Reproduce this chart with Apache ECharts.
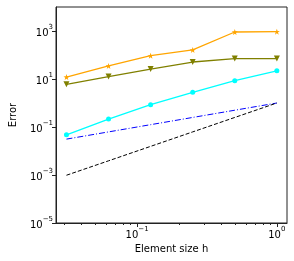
<!DOCTYPE html>
<html><head><meta charset="utf-8">
<script src="https://cdn.jsdelivr.net/npm/echarts@6/dist/echarts.min.js"></script>
<style>html,body{margin:0;padding:0;background:#fff}#c{width:294px;height:261px}</style>
</head><body><div id="c"></div>
<script>
var h = [0.03125, 0.0625, 0.125, 0.25, 0.5, 1];
var errOrange = [12, 35, 94, 162, 910, 940];
var errOlive = [6, 12.6, 26, 51, 71, 71];
var errCyan = [0.047, 0.215, 0.85, 2.8, 8.5, 22];
var refLinear = [0.03125, 0.0625, 0.125, 0.25, 0.5, 1];
var refQuad = [0.000977, 0.0039, 0.0156, 0.0625, 0.25, 1];
var xMajorTicks = [0.1, 1];
var xMinorTicks = [0.03,0.04,0.05,0.06,0.07,0.08,0.09,0.2,0.3,0.4,0.5,0.6,0.7,0.8,0.9];
var yMajorTicks = [1e-5, 1e-3, 1e-1, 1e1, 1e3];

function pairs(ys){ return h.map(function(x,i){return [x, ys[i]];}); }
function sup(v){
  var e = Math.round(Math.log10(v));
  var s = (e < 0 ? '\u2212' : '') + Math.abs(e);
  return '{b|10}{s|' + s + '}';
}
var rich = {
  b: {fontSize: 10, fontFamily: 'DejaVu Sans', color: '#000', lineHeight: 14, verticalAlign: 'bottom'},
  s: {fontSize: 7, fontFamily: 'DejaVu Sans', color: '#000', lineHeight: 14, verticalAlign: 'top'}
};
var star = 'path://M0,-10 L2.35,-3.24 9.51,-3.09 3.8,1.24 5.88,8.09 0,4 -5.88,8.09 -3.8,1.24 -9.51,-3.09 -2.35,-3.24 Z';
var chart = echarts.init(document.getElementById('c'));
chart.setOption({
  animation: false,
  grid: {left: 46, right: 7, top: 7, bottom: 38, show: true, borderColor: '#222', borderWidth: 1},
  xAxis: [{
    type: 'log', min: 0.0263, max: 1.182, logBase: 10,
    name: 'Element size h', nameLocation: 'middle', nameGap: 21,
    nameTextStyle: {fontSize: 10, fontFamily: 'DejaVu Sans', color: '#000'},
    axisLine: {show: true, onZero: false, lineStyle: {color: '#222', width: 1}},
    axisTick: {show: true, length: 4, customValues: xMajorTicks, lineStyle: {color: '#222'}},
    axisLabel: {customValues: xMajorTicks, margin: 3, formatter: sup, rich: rich},
    splitLine: {show: false}
  }, {
    type: 'log', min: 0.0263, max: 1.182, position: 'bottom',
    axisLine: {show: false},
    axisTick: {show: true, length: 2, customValues: xMinorTicks, lineStyle: {color: '#222'}},
    axisLabel: {show: false}, splitLine: {show: false}
  }],
  yAxis: {
    type: 'log', min: 1e-5, max: 1e4,
    name: 'Error', nameLocation: 'middle', nameGap: 38, nameRotate: 90,
    nameTextStyle: {fontSize: 10, fontFamily: 'DejaVu Sans', color: '#000'},
    axisLine: {show: true, onZero: false, lineStyle: {color: '#222', width: 1}},
    axisTick: {show: true, length: 4, customValues: yMajorTicks, lineStyle: {color: '#222'}},
    axisLabel: {customValues: yMajorTicks, margin: 3, formatter: sup, rich: rich},
    splitLine: {show: false}
  },
  series: [
    {type: 'line', data: pairs(errOrange), symbol: star, symbolSize: 6,
     lineStyle: {color: '#FFA500', width: 1.3}, itemStyle: {color: '#FFA500'}},
    {type: 'line', data: pairs(errOlive), symbol: 'triangle', symbolRotate: 180, symbolSize: 6,
     lineStyle: {color: '#808000', width: 1.3}, itemStyle: {color: '#808000'}},
    {type: 'line', data: pairs(errCyan), symbol: 'circle', symbolSize: 5,
     lineStyle: {color: '#00FFFF', width: 1.3}, itemStyle: {color: '#00FFFF'}},
    {type: 'line', data: pairs(refLinear), symbol: 'none',
     lineStyle: {color: '#0000FF', width: 1, type: [6, 2, 1, 2]}},
    {type: 'line', data: pairs(refQuad), symbol: 'none',
     lineStyle: {color: '#000000', width: 1, type: [4, 2]}}
  ]
});
</script></body></html>
